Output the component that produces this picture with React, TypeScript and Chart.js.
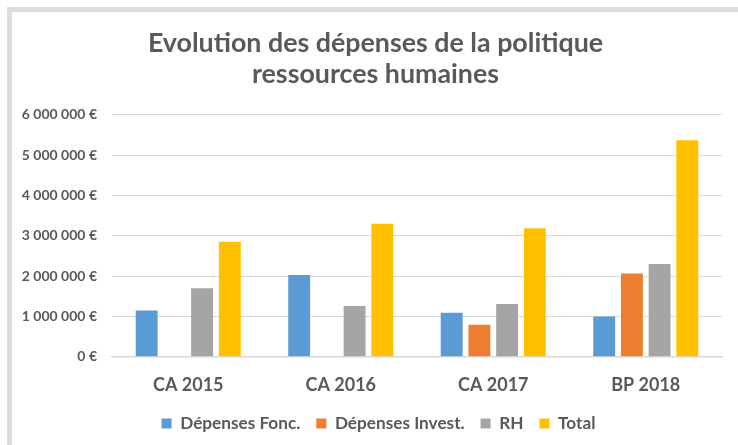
import React, { useEffect, useRef } from "react";
import { Chart, registerables } from "chart.js";

Chart.register(...registerables);

const categories = ["CA 2015", "CA 2016", "CA 2017", "BP 2018"];
const seriesNames = ["Dépenses Fonc.", "Dépenses Invest.", "RH", "Total"];
const depensesFonc = [1150000, 2030000, 1095000, 1000000];
const depensesInvest = [0, 0, 795000, 2065000];
const rh = [1700000, 1260000, 1310000, 2300000];
const total = [2850000, 3300000, 3190000, 5370000];
const yMin = 0;
const yMax = 6000000;
const yStep = 1000000;
const titleLines = ["Evolution des dépenses de la politique", "ressources humaines"];

const colors = ["#5B9BD5", "#ED7D31", "#A5A5A5", "#FFC000"];
const textColor = "#595959";
const FONT = "Lato, 'Noto Sans', sans-serif";

function formatEuro(v: number): string {
  return String(Math.round(v)).replace(/\B(?=(\d{3})+(?!\d))/g, " ") + " €";
}

// Re-centres the title and legend the way the original frame does.
const centerBlocks = {
  id: "centerBlocks",
  beforeDraw(chart: any) {
    if (chart.titleBlock) {
      chart.titleBlock.left = 13;
      chart.titleBlock.right = 738;
    }
    if (chart.legend) {
      chart.legend.left = 35;
      chart.legend.right = 722;
    }
  },
};

export default function App() {
  const canvasRef = useRef<HTMLCanvasElement | null>(null);

  useEffect(() => {
    if (!canvasRef.current) return;
    const values = [depensesFonc, depensesInvest, rh, total];
    const chart = new Chart(canvasRef.current, {
      type: "bar",
      data: {
        labels: categories,
        datasets: values.map((d, i) => ({
          label: seriesNames[i],
          data: d,
          backgroundColor: colors[i],
          borderWidth: 0,
          categoryPercentage: 0.727,
          barPercentage: 0.79,
        })),
      },
      plugins: [centerBlocks],
      options: {
        animation: false,
        responsive: false,
        maintainAspectRatio: false,
        layout: { padding: { left: 0, right: 16, top: 27, bottom: 3 } },
        plugins: {
          tooltip: { enabled: false },
          title: {
            display: true,
            text: titleLines,
            color: textColor,
            font: { family: FONT, size: 26.8, weight: "bold", lineHeight: 1.19 },
            padding: { top: 0, bottom: 24 },
          },
          legend: {
            display: true,
            position: "bottom",
            labels: {
              color: textColor,
              font: { family: FONT, size: 17.2, weight: "bold" },
              boxWidth: 10,
              boxHeight: 10,
              padding: 16,
            },
          },
        },
        scales: {
          x: {
            grid: { display: false, drawTicks: false },
            border: { display: true, color: "#D9D9D9", width: 1.5 },
            ticks: {
              color: textColor,
              font: { family: FONT, size: 18, weight: "bold" },
              padding: 18,
            },
            afterFit: (scale: any) => {
              scale.height = 42;
            },
          },
          y: {
            min: yMin,
            max: yMax,
            grid: { color: "#D9D9D9", lineWidth: 1, drawTicks: false },
            border: { display: false },
            ticks: {
              stepSize: yStep,
              color: textColor,
              font: { family: FONT, size: 14, weight: "bold" },
              padding: 15,
              callback: (v: any) => formatEuro(Number(v)),
            },
            afterFit: (scale: any) => {
              scale.width = 112;
            },
          },
        },
      },
    });
    return () => chart.destroy();
  }, []);

  return (
    <div style={{ position: "absolute", left: 0, top: 0, width: 738, height: 445, background: "#fff" }}>
      <div
        style={{
          position: "absolute",
          left: 7,
          top: 7,
          width: 731,
          height: 438,
          borderTop: "5px solid #DCDCDC",
          borderLeft: "5px solid #DCDCDC",
          boxSizing: "border-box",
        }}
      />
      <canvas
        ref={canvasRef}
        width={738}
        height={445}
        style={{ position: "absolute", left: 0, top: 0, width: 738, height: 445 }}
      />
    </div>
  );
}
